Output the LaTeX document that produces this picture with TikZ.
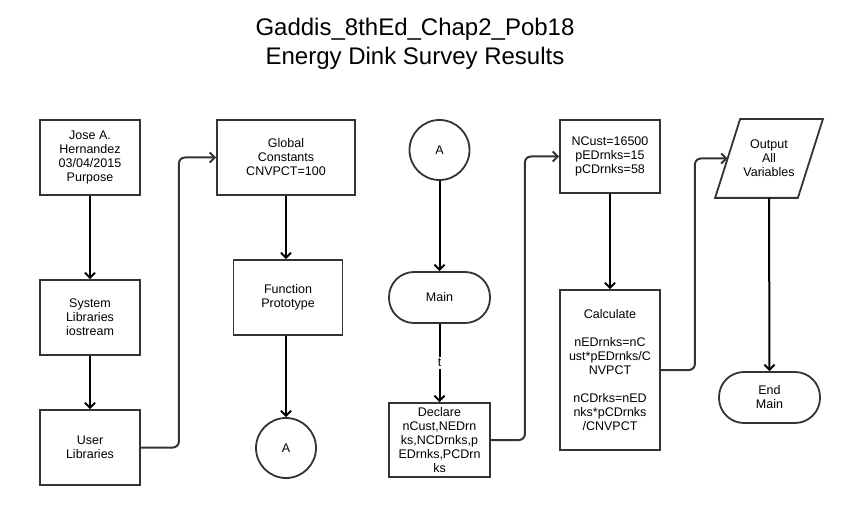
\documentclass[tikz,border=0pt]{standalone}
\usepackage{fontspec}
\setmainfont{Liberation Sans}
\usetikzlibrary{arrows.meta}

\tikzset{
	procbox/.style={draw=black!80, line width=1.8pt, fill=white, align=center, inner sep=0pt, font=\fontsize{12.5}{14}\selectfont},
	termbox/.style={procbox, rounded corners=25pt},
	connbox/.style={procbox, circle, minimum size=60pt},
	iobox/.style={procbox, draw=none, fill=none, minimum width=81pt, minimum height=77pt},
	slant/.style={draw=black!80, line width=1.8pt, line join=miter},
	flow/.style={line width=2pt, -{Straight Barb[length=5pt,width=10pt]}},
	jump/.style={flow, draw=black!80, rounded corners=6pt},
}

\begin{document}
\begin{tikzpicture}[x=1pt, y=-1pt]
		%%%%% START %%%%%
		\useasboundingbox (0, 0) rectangle (846, 505);
		
		\node[font=\fontsize{24}{29}\selectfont, align=center] (title) at (415, 44) {Gaddis\_8thEd\_Chap2\_Pob18\\Energy Dink Survey Results};
		
		\node[procbox, minimum width=100pt, minimum height=75pt] (head) at (90, 157.5) {Jose A.\\Hernandez\\03/04/2015\\Purpose};
		\node[procbox, minimum width=100pt, minimum height=75pt] (slib) at (90, 317.5) {System\\Libraries\\iostream};
		\node[procbox, minimum width=100pt, minimum height=75pt] (ulib) at (90, 447.5) {User\\Libraries};
		
		\node[procbox, minimum width=138pt, minimum height=75pt] (glob) at (286, 157.5) {Global\\Constants\\CNVPCT=100};
		\node[procbox, minimum width=109pt, minimum height=75pt] (func) at (288, 297.5) {Function\\Prototype};
		\node[connbox] (offA) at (286, 448) {A};
		
		\node[connbox] (onA) at (439.5, 150) {A};
		\node[termbox, minimum width=101pt, minimum height=51pt] (main) at (439.5, 297.5) {Main};
		\node[procbox, minimum width=101pt, minimum height=74pt] (decl) at (439.5, 440) {Declare\\nCust,NEDrn\\ks,NCDrnks,p\\EDrnks,PCDrn\\ks};
		
		\node[procbox, minimum width=100pt, minimum height=73pt] (init) at (610, 156.5) {NCust=16500\\pEDrnks=15\\pCDrnks=58};
		\node[procbox, minimum width=100pt, minimum height=160pt] (calc) at (610, 370) {Calculate\\[14pt]nEDrnks=nC\\ust*pEDrnks/C\\NVPCT\\[14pt]nCDrks=nED\\nks*pCDrnks\\/CNVPCT};
		
		\node[iobox] (out) at (769, 158.5) {Output\\All\\Variables};
		\draw[slant] ([xshift=-12.5]out.south west) -- ([xshift=-12.5]out.south east) -- ([xshift=12.5]out.north east) -- ([xshift=12.5]out.north west) -- cycle;
		\node[termbox, minimum width=101pt, minimum height=51pt] (endm) at (769.5, 397.5) {End\\Main};
		
		\draw[flow] (head) -- (slib);
		\draw[flow] (slib) -- (ulib);
		\draw[jump] (ulib.east) -- ++(38, 0) |- (glob.west);
		\draw[flow] (glob.south) -- (glob.south |- func.north);
		\draw[flow] (glob.south |- func.south) -- (glob.south |- offA.north);
		
		\draw[flow] (onA) -- (main);
		\draw[flow] (main) -- node[fill=white, inner sep=2pt, font=\fontsize{12.5}{14}\selectfont] (tlab) {t} (decl);
		\draw[jump] (decl.east) -- ++(34, 0) |- (init.west);
		
		\draw[flow] (init) -- (calc);
		\draw[jump] (calc.east) -- ++(34, 0) |- (out.west);
		\draw[flow] (out.south) -- (endm.north);
		
		%%%%% END %%%%%
	\end{tikzpicture}
\end{document}
